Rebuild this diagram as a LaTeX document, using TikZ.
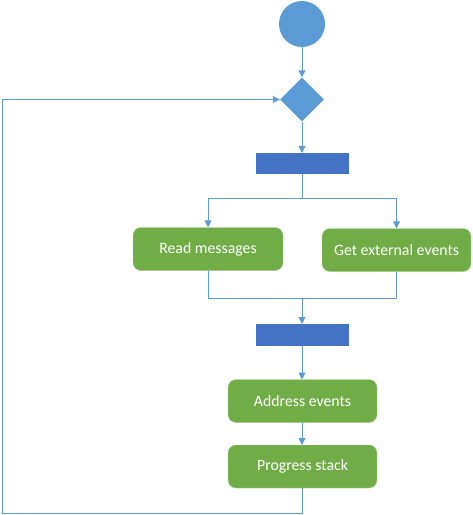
\documentclass[tikz,border=0pt]{standalone}
\usepackage{fontspec}
\setmainfont{Carlito}
\usetikzlibrary{shapes.geometric,arrows.meta}
\definecolor{lblue}{HTML}{5B9BD5}
\definecolor{dblue}{HTML}{4472C4}
\definecolor{fgreen}{HTML}{70AD47}
\begin{document}
\begin{tikzpicture}[x=1pt,y=1pt,
  conn/.style={draw=lblue,line width=0.9pt},
  arr/.style={conn,-{Triangle[width=7pt,length=7pt]}},
  act/.style={rectangle,rounded corners=8pt,fill=fgreen,draw=fgreen!60!white,line width=0.4pt,minimum width=149pt,minimum height=43pt,text=white,font=\fontsize{15.8}{18}\selectfont,inner sep=0pt},
  bar/.style={rectangle,fill=dblue,minimum width=93pt,minimum height=21pt,inner sep=0pt}]
\useasboundingbox (0,0) rectangle (473,-515);
\node[circle,fill=lblue,minimum size=46pt,inner sep=0pt] (start) at (302,-24) {};
\node[diamond,fill=lblue,minimum width=44pt,minimum height=44pt,inner sep=0pt] (dec) at (302,-99.5) {};
\node[bar] (bar1) at (302.5,-163.5) {};
\node[act,minimum width=150pt] (rm) at (208,-249) {Read messages};
\node[act] (ge) at (396.5,-250) {Get external events};
\node[bar,minimum height=22pt] (bar2) at (302.5,-335) {};
\node[act] (ae) at (302.5,-401) {Address events};
\node[act] (ps) at (302.5,-466.5) {Progress stack};
\coordinate (split) at (302,-198);
\coordinate (join) at (302,-298);
\coordinate (c1) at (302,-513);
\coordinate (c2) at (2,-513);
\coordinate (c3) at (2,-99.5);
\draw[arr] (start) -- (dec);
\draw[arr] (dec) -- (302,-153) ;
\draw[conn] (302,-174) -- (split);
\draw[arr] (split) -| (rm.north);
\draw[arr] (split) -| (ge.north);
\draw[conn] (rm.south) |- (join);
\draw[conn] (ge.south) |- (join);
\draw[arr] (join) -- (302,-324);
\draw[arr] (302,-346) -- (302,-379.5);
\draw[arr] (302,-422.5) -- (302,-445);
\draw[arr] (302,-488) -- (c1) -- (c2) -- (c3) -- (dec.west);
\end{tikzpicture}
\end{document}
